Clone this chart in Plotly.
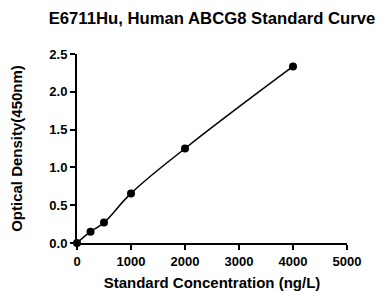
import plotly.graph_objects as go

concentration = [0, 250, 500, 1000, 2000, 4000]
optical_density = [0.0, 0.15, 0.27, 0.656, 1.25, 2.335]
x_ticks = [0, 1000, 2000, 3000, 4000, 5000]
y_ticks = [0.0, 0.5, 1.0, 1.5, 2.0, 2.5]

FONT = "Arial, Liberation Sans, sans-serif"

# The page body has an 8px default margin, so the figure is sized/offset to compensate.
W, H = 375, 283

fig = go.Figure()
fig.add_trace(go.Scatter(
    x=concentration, y=optical_density,
    mode="lines+markers",
    line=dict(color="black", width=1.5, shape="spline", smoothing=1.2),
    marker=dict(color="black", size=8),
    cliponaxis=False,
    showlegend=False,
))

fig.update_layout(
    width=W, height=H,
    margin=dict(l=69, r=36, t=46, b=48, autoexpand=False),
    paper_bgcolor="white", plot_bgcolor="white",
    title=dict(text="<b>E6711Hu, Human ABCG8 Standard Curve</b>",
               xref="paper", x=0.5, xanchor="center",
               yref="container", y=1 - 10 / H, yanchor="middle",
               font=dict(family=FONT, size=16.7, color="black")),
    font=dict(family=FONT, color="black"),
)
fig.update_xaxes(
    range=[0, 5000], tickvals=x_ticks, ticktext=[f"<b>{v}</b>" for v in x_ticks],
    showgrid=False, zeroline=False, showline=True, linecolor="black", linewidth=2,
    ticks="outside", ticklen=5, tickwidth=2, tickcolor="black", automargin=False,
    tickfont=dict(family=FONT, size=13, color="black"),
    title=dict(text="<b>Standard Concentration (ng/L)</b>", standoff=12,
               font=dict(family=FONT, size=15, color="black")),
)
fig.update_yaxes(
    range=[0, 2.5], tickvals=y_ticks, ticktext=[f"<b>{v:.1f}</b>" for v in y_ticks],
    showgrid=False, zeroline=False, showline=True, linecolor="black", linewidth=2,
    ticks="outside", ticklen=5, tickwidth=2, tickcolor="black", automargin=False,
    tickfont=dict(family=FONT, size=13, color="black"),
    title=dict(text="<b>Optical Density(450nm)</b>", standoff=23,
               font=dict(family=FONT, size=15, color="black")),
)

fig.write_html("out.html")
